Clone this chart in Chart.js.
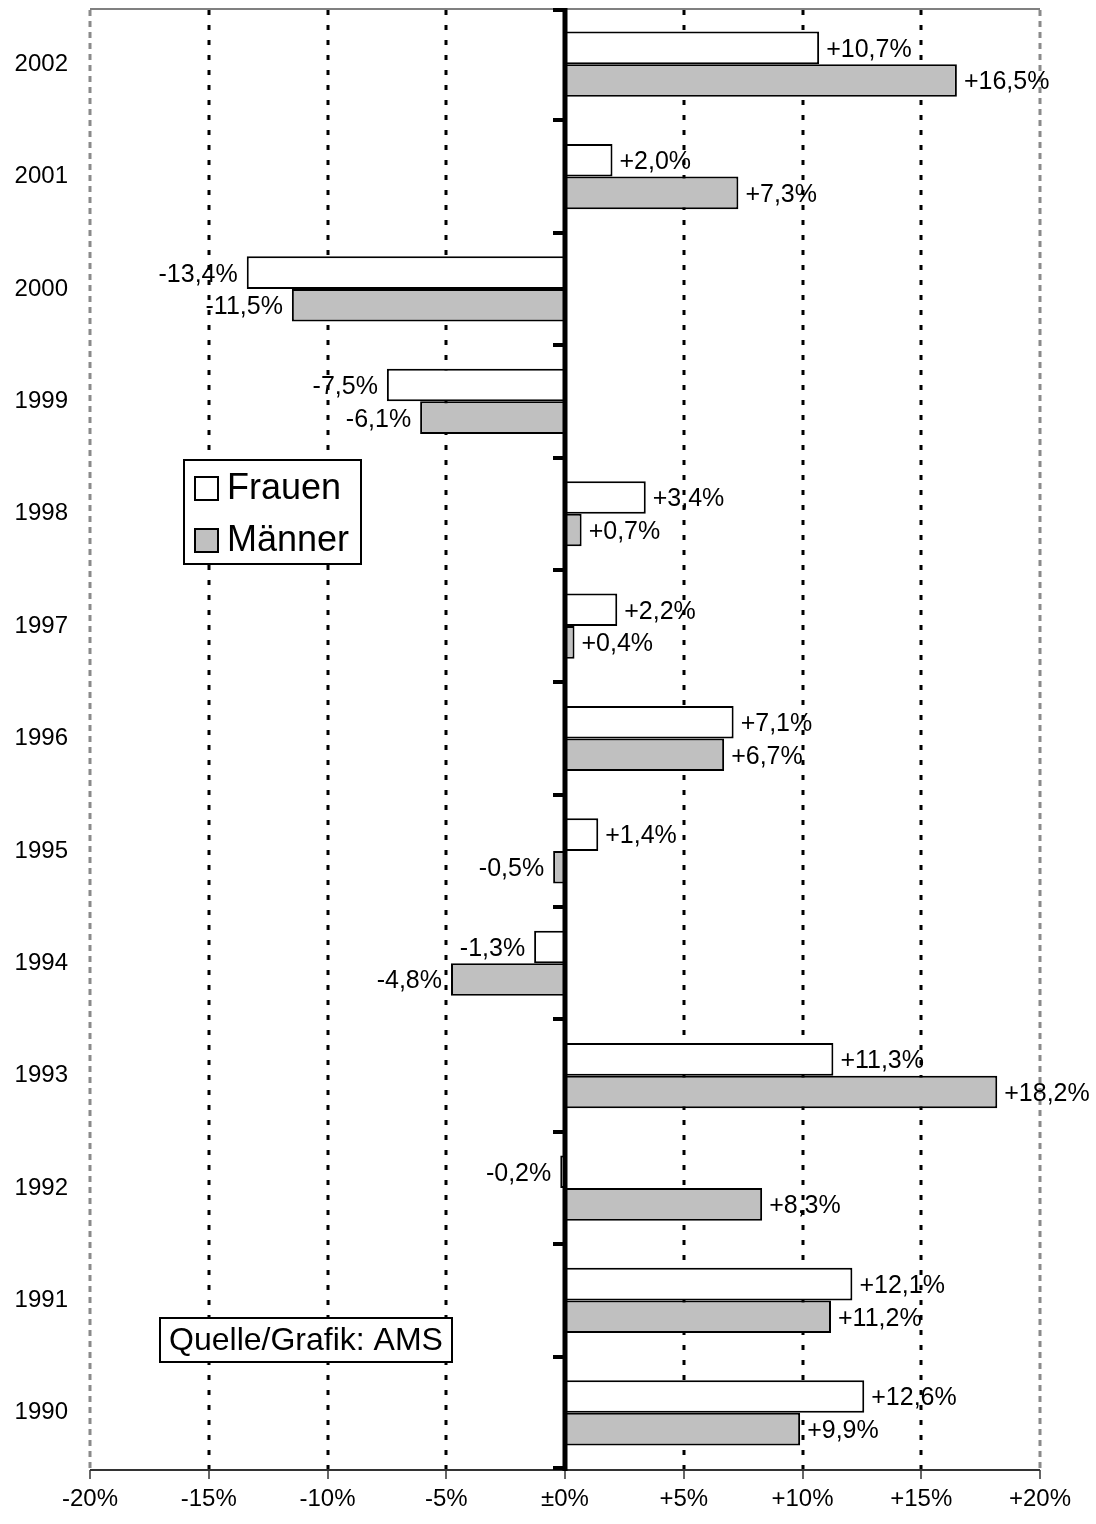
<!DOCTYPE html>
<html>
<head>
<meta charset="utf-8">
<script src="https://cdn.jsdelivr.net/npm/chart.js@4/dist/chart.umd.min.js"></script>
<style>
  html, body { margin: 0; padding: 0; background: #fff; }
  #wrap { width: 1096px; height: 1524px; position: relative; }
</style>
</head>
<body>
<div id="wrap"><canvas id="c"></canvas></div>
<script>
const years = ['2002','2001','2000','1999','1998','1997','1996','1995','1994','1993','1992','1991','1990'];
const frauen = [10.7, 2.0, -13.4, -7.5, 3.4, 2.2, 7.1, 1.4, -1.3, 11.3, -0.2, 12.1, 12.6];
const maenner = [16.5, 7.3, -11.5, -6.1, 0.7, 0.4, 6.7, -0.5, -4.8, 18.2, 8.3, 11.2, 9.9];
const xTicks = [-20, -15, -10, -5, 0, 5, 10, 15, 20];
const seriesNames = ['Frauen', 'Männer'];
const sourceText = 'Quelle/Grafik: AMS';

const FONT = '"Liberation Sans", Arial, Helvetica, sans-serif';
const fill = ['#ffffff', '#c0c0c0'];

function fmtTick(v) {
  if (v === 0) return '\u00b10%';
  return (v > 0 ? '+' : '') + v + '%';
}
function fmtVal(v) {
  return (v > 0 ? '+' : '') + v.toFixed(1).replace('.', ',') + '%';
}

const decor = {
  id: 'decor',
  beforeDatasetsDraw(chart) {
    const { ctx, chartArea: a, scales: { x } } = chart;
    ctx.save();
    // top border
    ctx.strokeStyle = '#808080';
    ctx.lineWidth = 2;
    ctx.setLineDash([]);
    ctx.beginPath();
    ctx.moveTo(a.left, a.top + 1);
    ctx.lineTo(a.right, a.top + 1);
    ctx.stroke();
    // vertical grid lines
    xTicks.forEach(v => {
      if (v === 0) return;
      const px = Math.round(x.getPixelForValue(v));
      ctx.beginPath();
      if (Math.abs(v) === 20) {
        ctx.strokeStyle = '#8a8a8a';
        ctx.lineWidth = 3;
        ctx.setLineDash([6, 5]);
      } else {
        ctx.strokeStyle = '#000';
        ctx.lineWidth = 3;
        ctx.setLineDash([5, 10]);
      }
      ctx.moveTo(px, a.top + 2);
      ctx.lineTo(px, a.bottom);
      ctx.stroke();
    });
    ctx.setLineDash([]);
    // bottom axis
    ctx.strokeStyle = '#333';
    ctx.lineWidth = 2;
    ctx.beginPath();
    ctx.moveTo(a.left, a.bottom + 1);
    ctx.lineTo(a.right, a.bottom + 1);
    ctx.stroke();
    ctx.lineWidth = 1.5;
    xTicks.forEach(v => {
      const px = Math.round(x.getPixelForValue(v));
      ctx.beginPath();
      ctx.moveTo(px, a.bottom + 1);
      ctx.lineTo(px, a.bottom + 10);
      ctx.stroke();
    });
    ctx.restore();
  },
  afterDatasetsDraw(chart) {
    const { ctx, chartArea: a, scales: { x } } = chart;
    ctx.save();
    const x0 = x.getPixelForValue(0);
    // zero line
    ctx.strokeStyle = '#000';
    ctx.lineWidth = 5;
    ctx.beginPath();
    ctx.moveTo(x0, a.top);
    ctx.lineTo(x0, a.bottom + 2);
    ctx.stroke();
    // category boundary ticks
    const n = years.length;
    const h = (a.bottom - a.top) / n;
    ctx.lineWidth = 4;
    for (let i = 0; i <= n; i++) {
      const yy = Math.round(a.top + i * h) + (i === 0 ? 2 : 0) - (i === n ? 1 : 0);
      ctx.beginPath();
      ctx.moveTo(x0 - 12, yy);
      ctx.lineTo(x0, yy);
      ctx.stroke();
    }
    // data labels
    ctx.fillStyle = '#000';
    ctx.font = '25px ' + FONT;
    ctx.textBaseline = 'middle';
    chart.data.datasets.forEach((ds, di) => {
      const meta = chart.getDatasetMeta(di);
      meta.data.forEach((el, i) => {
        const v = ds.data[i];
        if (v >= 0) {
          ctx.textAlign = 'left';
          ctx.fillText(fmtVal(v), el.x + 7, el.y + 2);
        } else {
          ctx.textAlign = 'right';
          ctx.fillText(fmtVal(v), el.x - 9, el.y + 2);
        }
      });
    });
    ctx.restore();
  },
  afterDraw(chart) {
    const { ctx } = chart;
    ctx.save();
    // legend box
    ctx.fillStyle = '#fff';
    ctx.fillRect(183, 459, 179, 106);
    ctx.strokeStyle = '#000';
    ctx.lineWidth = 2;
    ctx.strokeRect(184, 460, 177, 104);
    const rows = [488, 540];
    rows.forEach((cy, i) => {
      ctx.fillStyle = fill[i];
      ctx.fillRect(195, cy - 11, 23, 23);
      ctx.strokeRect(195, cy - 11, 23, 23);
      ctx.fillStyle = '#000';
      ctx.font = '36px ' + FONT;
      ctx.textAlign = 'left';
      ctx.textBaseline = 'middle';
      ctx.fillText(seriesNames[i], 227, cy + 1);
    });
    // source box
    ctx.fillStyle = '#fff';
    ctx.fillRect(159, 1317, 294, 46);
    ctx.strokeStyle = '#000';
    ctx.lineWidth = 2;
    ctx.strokeRect(160, 1318, 292, 44);
    ctx.fillStyle = '#000';
    ctx.font = '32px ' + FONT;
    ctx.textAlign = 'center';
    ctx.textBaseline = 'middle';
    ctx.fillText(sourceText, 306, 1341);
    ctx.restore();
  }
};

new Chart(document.getElementById('c'), {
  type: 'bar',
  data: {
    labels: years,
    datasets: [
      { label: seriesNames[0], data: frauen, backgroundColor: fill[0], borderColor: '#000', borderWidth: 2, borderSkipped: false,
        categoryPercentage: 0.58, barPercentage: 1.0 },
      { label: seriesNames[1], data: maenner, backgroundColor: fill[1], borderColor: '#000', borderWidth: 2, borderSkipped: false,
        categoryPercentage: 0.58, barPercentage: 1.0 }
    ]
  },
  options: {
    indexAxis: 'y',
    responsive: true,
    maintainAspectRatio: false,
    animation: false,
    layout: { padding: { top: 8, right: 56, bottom: 0, left: 0 } },
    plugins: { legend: { display: false }, tooltip: { enabled: false } },
    scales: {
      x: {
        type: 'linear',
        min: -20, max: 20,
        afterBuildTicks(s) { s.ticks = xTicks.map(v => ({ value: v })); },
        afterFit(s) { s.height = 55; s.paddingLeft = 0; s.paddingRight = 0; s.paddingTop = 0; s.paddingBottom = 0; },
        grid: { display: false, drawTicks: false },
        border: { display: false },
        ticks: {
          autoSkip: false,
          maxRotation: 0,
          padding: 16,
          color: '#000',
          font: { family: FONT, size: 24 },
          callback: v => fmtTick(v)
        }
      },
      y: {
        type: 'category',
        afterFit(s) { s.width = 90; s.paddingTop = 0; s.paddingBottom = 0; s.paddingLeft = 0; s.paddingRight = 0; },
        grid: { display: false, drawTicks: false },
        border: { display: false },
        ticks: {
          padding: 22,
          color: '#000',
          font: { family: FONT, size: 24 }
        }
      }
    }
  },
  plugins: [decor]
});
</script>
</body>
</html>
